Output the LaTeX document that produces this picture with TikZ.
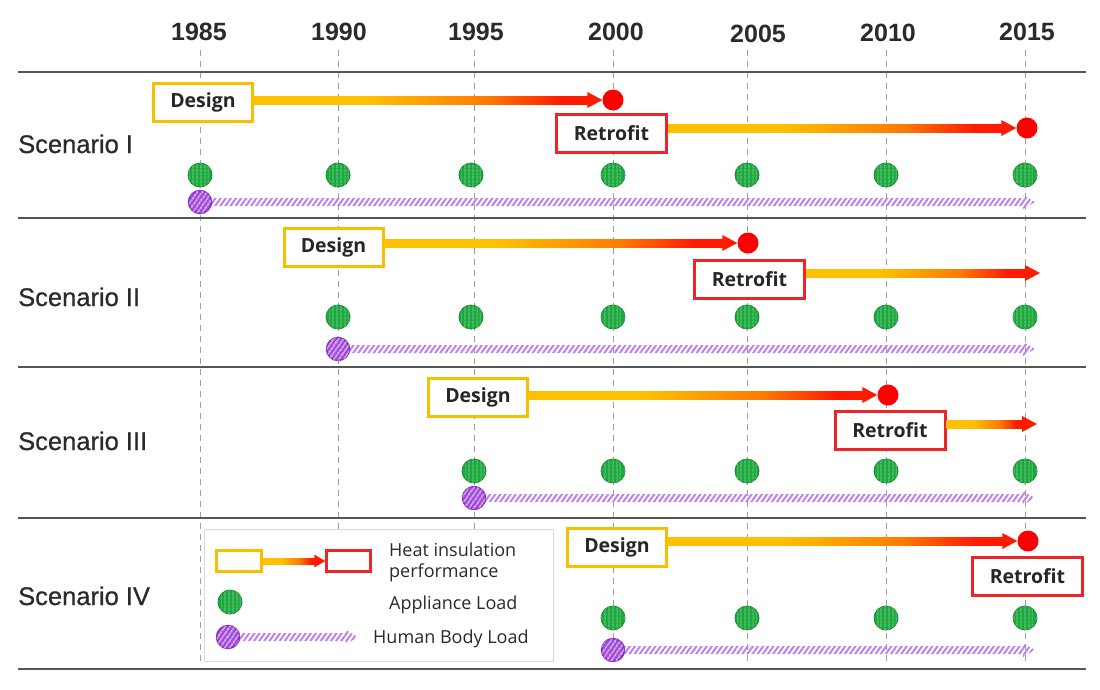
\documentclass[tikz,border=0pt]{standalone}
\usepackage{fontspec}
\setmainfont{Liberation Sans}
\newfontfamily\boxfont{Open Sans}
\newfontfamily\medfont{Liberation Sans}[FakeBold=0.6]
\usetikzlibrary{calc,patterns.meta}
\definecolor{heatY}{HTML}{FFC000}
\definecolor{heatO}{HTML}{FF7A00}
\definecolor{heatR}{HTML}{FF1A00}
\definecolor{boxY}{HTML}{F7BF00}
\definecolor{boxR}{HTML}{EE2428}
\definecolor{dotR}{HTML}{FF0000}
\definecolor{appG}{HTML}{1BA83C}
\definecolor{appGd}{HTML}{118A2E}
\definecolor{humP}{HTML}{A24BDB}
\definecolor{humPd}{HTML}{8A2BC4}
\definecolor{humL}{HTML}{BE80EA}
\definecolor{gridc}{HTML}{555555}
\definecolor{txt}{HTML}{2A2A2A}
\pgfdeclarehorizontalshading{heat}{100bp}{color(0bp)=(heatY); color(25bp)=(heatY); color(42bp)=(heatY); color(60bp)=(heatO); color(71bp)=(heatR); color(100bp)=(heatR)}
\newcommand\heatarrow[5]{%
  \shade[shading=heat] let \p1=#1, \p2=#2 in (\x1,\y2+#3pt) rectangle (\x2-#4pt+1pt,\y2-#3pt);
  \fill[heatR] let \p2=#2 in (\x2-#4pt,\y2+#5pt) -- (\x2,\y2) -- (\x2-#4pt,\y2-#5pt) -- cycle;
}
\newcommand\humanarrow[2]{%
  \fill[pattern={Lines[angle=55,distance=4.2pt,line width=2pt]}, pattern color=humL]
    let \p1=(#1.center) in (\x1,\y1+4pt) -- (#2pt-12pt,\y1+4pt) -- (#2pt-12pt,\y1+7pt) -- (#2pt,\y1)
    -- (#2pt-12pt,\y1-7pt) -- (#2pt-12pt,\y1-4pt) -- (\x1,\y1-4pt) -- cycle;
}
\tikzset{
  yearlbl/.style={font=\bfseries\fontsize{25}{30}\selectfont, text=txt, anchor=base, inner sep=0},
  scen/.style={font=\medfont\fontsize{25.5}{30}\selectfont, text=txt, anchor=base west, inner sep=0},
  dbox/.style={draw=boxY, line width=3pt, fill=white, minimum width=99pt, minimum height=38pt, inner sep=0,
    font=\boxfont\bfseries\fontsize{19.5}{22}\selectfont, text=black!85},
  rbox/.style={dbox, draw=boxR, minimum width=110pt},
  rdot/.style={circle, fill=dotR, minimum size=21pt, inner sep=0},
  app/.style={circle, fill=appG, draw=appGd, line width=0.8pt, minimum size=24pt, inner sep=0,
    postaction={pattern={Lines[angle=90,distance=4pt,line width=0.5pt]}, pattern color=appG!70!white}},
  hum/.style={circle, fill=humP, draw=humPd, line width=1.4pt, minimum size=23pt, inner sep=0,
    postaction={pattern={Lines[angle=55,distance=4pt,line width=1.3pt]}, pattern color=white!85!humP}},
  hline/.style={draw=gridc, line width=1.8pt},
  vdash/.style={draw=gray!75, line width=0.9pt, dash pattern=on 6pt off 5pt},
  legtxt/.style={font=\boxfont\fontsize{18}{21}\selectfont, text=txt, anchor=base west, inner sep=0},
}
\begin{document}
\begin{tikzpicture}[x=1pt,y=-1pt]
\useasboundingbox[fill=white] (0,0) rectangle (1100,689);
% vertical dashed year lines
\foreach \x/\n in {200/a,338/b,474/c,613/d,747/e,886/f,1025/g}{
  \coordinate (vt\n) at (\x,50);
  \coordinate (vb\n) at (\x,666);
  \draw[vdash] (vt\n) -- (vb\n);
}
% year labels
\foreach \x/\yy/\t in {199/40/1985,339/40/1990,476/40/1995,616/40/2000,758/42/2005,888/41/2010,1027/40/2015}{
  \node[yearlbl] (yr\t) at (\x,\yy) {\t};
}
% horizontal separators
\foreach \yy/\n in {72/0,218/1,367/2,518/3,669/4}{
  \coordinate (hl\n) at (18,\yy);
  \coordinate (hr\n) at (1086,\yy);
  \draw[hline] (hl\n) -- (hr\n);
}
% scenario labels
\node[scen] (s1) at (18,153) {Scenario I};
\node[scen] (s2) at (18,306) {Scenario II};
\node[scen] (s3) at (18,450) {Scenario III};
\node[scen] (s4) at (18,605) {Scenario IV};
% legend frame
\node[draw=gray!30, fill=white, line width=0.8pt, minimum width=349pt, minimum height=132pt, inner sep=0, anchor=north west] (leg) at (204,529) {};

% red dots and arrow tips
\node[rdot] (p1) at (613,100) {};
\node[rdot] (q1) at (1027,128) {};
\node[rdot] (p2) at (748,243) {};
\coordinate (t2) at (1040,273);
\node[rdot] (p3) at (888,395) {};
\coordinate (t3) at (1037,424);
\node[rdot] (p4) at (1028,541) {};

% boxes
\node[dbox] (d1) at (203,102.5) {Design};
\node[rbox] (r1) at (611.5,133.5) {Retrofit};
\node[dbox] (d2) at (333.5,247.5) {Design};
\node[rbox] (r2) at (749.5,279) {Retrofit};
\node[dbox] (d3) at (478,397) {Design};
\node[rbox] (r3) at (890,430) {Retrofit};
\node[dbox] (d4) at (617,547) {Design};
\node[rbox] (r4) at (1027.5,576) {Retrofit};

% heat arrows
\heatarrow{(d1.east)}{(p1.west)}{4}{15}{8}
\heatarrow{(r1.east)}{(q1.west)}{4}{15}{8}
\heatarrow{(d2.east)}{(p2.west)}{4}{15}{8}
\heatarrow{(r2.east)}{(t2)}{4}{15}{8}
\heatarrow{(d3.east)}{(p3.west)}{4}{15}{8}
\heatarrow{(r3.east)}{(t3)}{4}{15}{8}
\heatarrow{(d4.east)}{(p4.west)}{4}{15}{8}

% appliance load circles
\foreach \x [count=\i] in {200,338,471,613,747,886,1025}{\node[app] (ga\i) at (\x,175) {};}
\foreach \x [count=\i] in {338,471,613,747,886,1025}{\node[app] (gb\i) at (\x,317) {};}
\foreach \x [count=\i] in {474,613,747,886,1025}{\node[app] (gc\i) at (\x,471) {};}
\foreach \x [count=\i] in {613,747,886,1025}{\node[app] (gd\i) at (\x,618) {};}

% human body load
\coordinate (hp1) at (200,202);
\coordinate (hp2) at (338,349);
\coordinate (hp3) at (474,498);
\coordinate (hp4) at (613,650);
\humanarrow{hp1}{1035}
\humanarrow{hp2}{1035}
\humanarrow{hp3}{1035}
\humanarrow{hp4}{1035}
\node[hum] (h1) at (hp1) {};
\node[hum] (h2) at (hp2) {};
\node[hum] (h3) at (hp3) {};
\node[hum] (h4) at (hp4) {};

% legend contents
\node[draw=boxY, line width=2.5pt, fill=white, minimum width=45pt, minimum height=21pt, inner sep=0] (ly) at (239,561) {};
\node[draw=boxR, line width=2.5pt, fill=white, minimum width=44pt, minimum height=21pt, inner sep=0] (lr) at (348.5,561) {};
\heatarrow{(ly.east)}{(lr.west)}{3}{11}{6.5}
\node[legtxt] (lt1) at (389,556) {Heat insulation};
\node[legtxt] (lt2) at (389,577) {performance};
\node[app] (lg) at (230,602) {};
\node[legtxt] (lt3) at (389,609) {Appliance Load};
\coordinate (lhp) at (228,637);
\humanarrow{lhp}{358}
\node[hum] (lh) at (lhp) {};
\node[legtxt] (lt4) at (373,643) {Human Body Load};
\end{tikzpicture}
\end{document}
